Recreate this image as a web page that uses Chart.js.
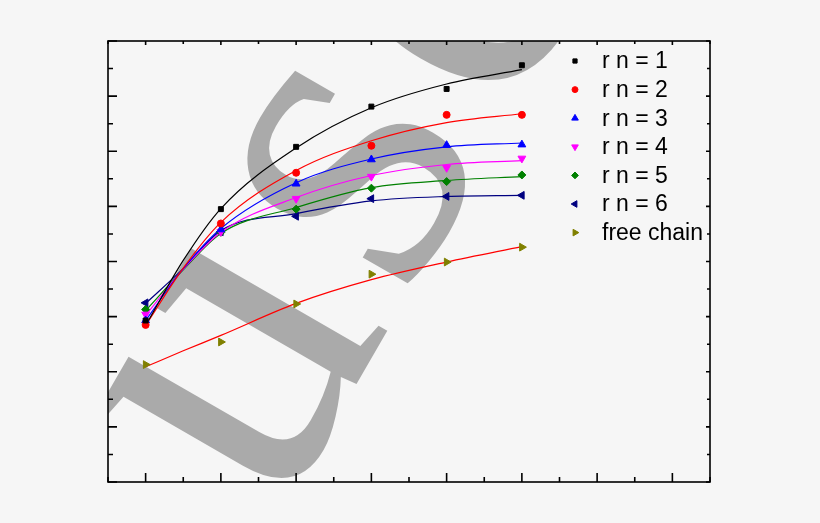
<!DOCTYPE html>
<html>
<head>
<meta charset="utf-8">
<script src="https://cdn.jsdelivr.net/npm/chart.js@4.4.1/dist/chart.umd.min.js"></script>
<style>
  html, body { margin: 0; padding: 0; background: #f6f6f6; }
  #wrap { width: 820px; height: 523px; }
</style>
</head>
<body>
<div id="wrap"><canvas id="c" width="820" height="523"></canvas></div>
<script>
// ---- data ----
const xValues = [1, 2, 3, 4, 5, 6];
const rn1 = [2.93, 4.95, 6.08, 6.81, 7.13, 7.56];
const rn2 = [2.85, 4.69, 5.61, 6.10, 6.66, 6.66];
const rn3 = [2.93, 4.58, 5.41, 5.85, 6.11, 6.12];
const rn4 = [3.04, 4.54, 5.14, 5.54, 5.70, 5.87];
const rn5 = [3.13, 4.53, 4.95, 5.33, 5.45, 5.57];
const rn6 = [3.25, 4.54, 4.82, 5.14, 5.18, 5.20];
const freeChain = [2.13, 2.54, 3.23, 3.77, 3.99, 4.26];

// fitted curves at these x positions
const fitX = [1, 1.5, 2, 3, 4, 5, 6];
const fit1 = [2.84, 4.02, 4.96, 6.06, 6.79, 7.22, 7.48];
const fit2 = [2.84, 3.88, 4.71, 5.65, 6.19, 6.52, 6.68];
const fit3 = [2.93, 3.87, 4.60, 5.43, 5.86, 6.08, 6.15];
const fit4 = [3.02, 3.86, 4.53, 5.16, 5.56, 5.76, 5.83];
const fit5 = [3.11, 3.85, 4.51, 4.98, 5.34, 5.47, 5.54];
const fit6 = [3.24, 3.87, 4.56, 4.87, 5.10, 5.18, 5.20];
const fitFree = [2.09, 2.38, 2.66, 3.24, 3.67, 3.99, 4.27];

const seriesLabels = ['r n = 1', 'r n = 2', 'r n = 3', 'r n = 4', 'r n = 5', 'r n = 6', 'free chain'];
const xMajorTicks = [1, 2, 3, 4, 5, 6, 7, 8];
const xMinorTicks = [0.5, 1.5, 2.5, 3.5, 4.5, 5.5, 6.5, 7.5, 8.5];
const yMajorTicks = [0, 1, 2, 3, 4, 5, 6, 7, 8];
const yMinorTicks = [0.5, 1.5, 2.5, 3.5, 4.5, 5.5, 6.5, 7.5];
const watermarkText = 'Manuscript';

// ---- build datasets ----
const pts = (xs, arr) => arr.map((v, i) => ({ x: xs[i], y: v }));
const markerDefs = [
  { data: rn1, color: '#000000', style: 'rect', rot: 0, r: 3.5 },
  { data: rn2, color: '#ff0000', style: 'circle', rot: 0, r: 3.5 },
  { data: rn3, color: '#0000ff', style: 'triangle', rot: 0, r: 4.5 },
  { data: rn4, color: '#ff00ff', style: 'triangle', rot: 180, r: 4.5 },
  { data: rn5, color: '#008000', style: 'rectRot', rot: 0, r: 4 },
  { data: rn6, color: '#000080', style: 'triangle', rot: -90, r: 4.5 },
  { data: freeChain, color: '#808000', style: 'triangle', rot: 90, r: 4.5 }
];
const fitDefs = [
  { data: fit1, color: '#000000' },
  { data: fit2, color: '#ff0000' },
  { data: fit3, color: '#0000ff' },
  { data: fit4, color: '#ff00ff' },
  { data: fit5, color: '#008000' },
  { data: fit6, color: '#000080' },
  { data: fitFree, color: '#ff0000' }
];

const datasets = [];
fitDefs.forEach((f, i) => {
  datasets.push({
    label: 'fit ' + i, data: pts(fitX, f.data), showLine: true, borderColor: f.color,
    borderWidth: 1.2, pointRadius: 0, cubicInterpolationMode: 'monotone', fill: false,
    order: 2
  });
});
markerDefs.forEach((m, i) => {
  datasets.push({
    label: seriesLabels[i], data: pts(xValues, m.data), showLine: false,
    pointStyle: m.style, rotation: m.rot, pointRadius: m.r,
    backgroundColor: m.color, borderColor: m.color, borderWidth: 1, order: 1
  });
});

// ---- plugins ----
const watermarkPlugin = {
  id: 'watermark',
  beforeDatasetsDraw(chart) {
    const { ctx, chartArea: a } = chart;
    ctx.save();
    ctx.beginPath();
    ctx.rect(a.left, a.top, a.right - a.left, a.bottom - a.top);
    ctx.clip();
    const F = 460;
    const LS = 24;
    ctx.font = F + 'px "Liberation Serif"';
    ctx.fillStyle = 'rgb(170,170,170)';
    ctx.textBaseline = 'alphabetic';
    ctx.textAlign = 'left';
    try { ctx.letterSpacing = LS + 'px'; } catch (e) {}
    const pre = ctx.measureText('Manu').width;
    ctx.translate(308, 262);
    ctx.rotate(-60 * Math.PI / 180);
    ctx.fillText(watermarkText, -pre + LS / 2, 0.224 * F);
    ctx.restore();
  }
};

const framePlugin = {
  id: 'frame',
  afterDatasetsDraw(chart) {
    const { ctx, chartArea: a, scales } = chart;
    const xs = scales.x, ys = scales.y;
    ctx.save();
    ctx.strokeStyle = '#000';
    ctx.lineWidth = 1.6;
    ctx.strokeRect(a.left, a.top, a.right - a.left, a.bottom - a.top);
    ctx.beginPath();
    xMajorTicks.forEach(v => {
      const px = xs.getPixelForValue(v);
      ctx.moveTo(px, a.bottom); ctx.lineTo(px, a.bottom - 9);
      ctx.moveTo(px, a.top); ctx.lineTo(px, a.top + 4);
    });
    xMinorTicks.forEach(v => {
      const px = xs.getPixelForValue(v);
      ctx.moveTo(px, a.bottom); ctx.lineTo(px, a.bottom - 5);
      ctx.moveTo(px, a.top); ctx.lineTo(px, a.top + 3);
    });
    yMajorTicks.forEach(v => {
      const py = ys.getPixelForValue(v);
      ctx.moveTo(a.left, py); ctx.lineTo(a.left + 9, py);
      ctx.moveTo(a.right, py); ctx.lineTo(a.right - 4, py);
    });
    yMinorTicks.forEach(v => {
      const py = ys.getPixelForValue(v);
      ctx.moveTo(a.left, py); ctx.lineTo(a.left + 5, py);
      ctx.moveTo(a.right, py); ctx.lineTo(a.right - 3, py);
    });
    ctx.stroke();
    ctx.restore();
  }
};

const legendPlugin = {
  id: 'customLegend',
  afterDatasetsDraw(chart) {
    const { ctx } = chart;
    ctx.save();
    const markerX = 575, textX = 602, y0 = 61, step = 28.6;
    ctx.font = '23px "Liberation Sans", Arial, sans-serif';
    ctx.textBaseline = 'middle';
    ctx.textAlign = 'left';
    markerDefs.forEach((m, i) => {
      const y = y0 + i * step;
      ctx.fillStyle = m.color;
      ctx.strokeStyle = m.color;
      ctx.lineWidth = 1;
      Chart.helpers.drawPoint(ctx, { pointStyle: m.style, rotation: m.rot, radius: m.r * 0.85, borderWidth: 1 }, markerX, y);
      ctx.fillStyle = '#000';
      ctx.fillText(seriesLabels[i], textX, y + 1);
    });
    ctx.restore();
  }
};

new Chart(document.getElementById('c'), {
  type: 'line',
  data: { datasets },
  options: {
    responsive: false,
    animation: false,
    layout: { padding: { left: 108, right: 110, top: 41, bottom: 41 } },
    plugins: { legend: { display: false }, tooltip: { enabled: false } },
    scales: {
      x: { type: 'linear', min: 0.5, max: 8.5, display: false },
      y: { type: 'linear', min: 0, max: 8, display: false }
    }
  },
  plugins: [watermarkPlugin, framePlugin, legendPlugin]
});
</script>
</body>
</html>
